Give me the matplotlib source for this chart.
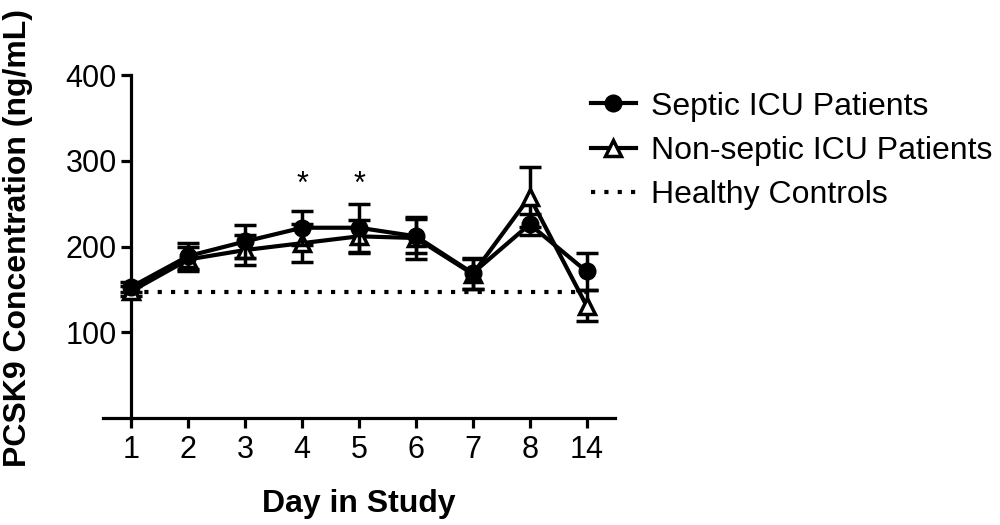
import matplotlib
matplotlib.use('Agg')
import matplotlib.pyplot as plt
from matplotlib.lines import Line2D
import numpy as np

plt.rcParams['font.family'] = ['Liberation Sans', 'DejaVu Sans']

# Data (mean +/- SEM, ng/mL)
days = ['1', '2', '3', '4', '5', '6', '7', '8', '14']
septic = [153, 189, 206, 222, 222, 212, 169, 226, 171]
septic_err = [6, 15, 19, 20, 28, 20, 18, 12, 22]
nonseptic = [148, 185, 196, 204, 212, 210, 168, 258, 131]
nonseptic_err = [6, 14, 18, 22, 19, 24, 18, 35, 18]
healthy = 147
star_days = [3, 4]
star_y = 272

x = np.arange(len(days))

fig = plt.figure(figsize=(10, 5.25), dpi=100)
ax = fig.add_axes([0.103, 0.2038, 0.512, 0.653])

ax.plot([x[0], x[-1]], [healthy, healthy], color='black', lw=3,
        linestyle=(0, (1, 2.2)), zorder=1)

eb_kw = dict(color='black', lw=3, elinewidth=2.5, capsize=8, capthick=2.5)
ax.errorbar(x, nonseptic, yerr=nonseptic_err, marker='^', ms=12,
            mfc='white', mec='black', mew=2.5, zorder=3, **eb_kw)
ax.errorbar(x, septic, yerr=septic_err, marker='o', ms=12,
            mfc='black', mec='black', zorder=4, **eb_kw)

for d in star_days:
    ax.text(x[d], star_y, '*', ha='center', va='center', fontsize=22)

ax.set_xlim(-0.5, 8.5)
ax.set_ylim(0, 400)
ax.set_xticks(x)
ax.set_xticklabels(days)
ax.set_yticks([100, 200, 300, 400])

ax.spines['top'].set_visible(False)
ax.spines['right'].set_visible(False)
ax.spines['left'].set_position(('data', 0))
for s in ['left', 'bottom']:
    ax.spines[s].set_linewidth(2.3)
ax.tick_params(width=2.3, length=7, labelsize=22, direction='out')
ax.tick_params(axis='x', pad=5)

fig.text(0.359, 0.040, 'Day in Study', fontsize=23, fontweight='bold',
         ha='center', va='center')
fig.text(0.018, 0.547, 'PCSK9 Concentration (ng/mL)', fontsize=23,
         fontweight='bold', rotation=90, ha='center', va='center')

handles = [
    Line2D([], [], color='black', lw=3, marker='o', ms=12, mfc='black'),
    Line2D([], [], color='black', lw=3, marker='^', ms=12, mfc='white', mew=2.5),
    Line2D([], [], color='black', lw=3, linestyle=(0, (1, 2.2))),
]
labels = ['Septic ICU Patients', 'Non-septic ICU Patients', 'Healthy Controls']
ax.legend(handles, labels, loc='upper left',
          bbox_to_anchor=(0.578, 0.85), bbox_transform=fig.transFigure,
          frameon=False, fontsize=23, handlelength=1.4, handletextpad=0.5,
          labelspacing=0.45, borderaxespad=0)

fig.savefig('out.png', dpi=100)
